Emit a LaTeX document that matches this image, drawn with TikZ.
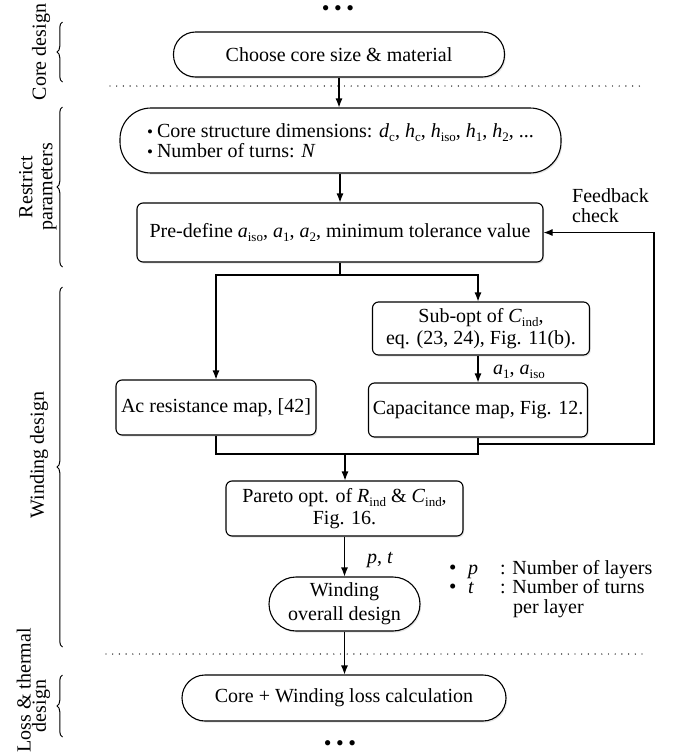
\documentclass[tikz,border=0pt]{standalone}
\usepackage{fontspec}
\setmainfont{Liberation Serif}
\usetikzlibrary{arrows.meta,decorations.pathreplacing,shadows}
\newcommand\sbs[1]{\raisebox{-0.2em}{\fontsize{13}{13}\selectfont #1}}
\newcommand\iv[1]{\textit{#1}}
\newcommand\bigdot{{\fontsize{21}{21}\selectfont •}}
\tikzset{
  box/.style={draw, line width=1.1pt, fill=white, inner sep=0pt, align=center,
    font=\fontsize{20}{22}\selectfont,
    drop shadow={shadow xshift=1.2pt,shadow yshift=-1.6pt,opacity=0.2}},
  conn/.style={line width=1.1pt},
  arr/.style={conn, -{Latex[length=9pt,width=7pt]}},
  dotline/.style={line width=1.4pt, dash pattern=on 0pt off 6.7pt, line cap=round},
  brc/.style={decorate, decoration={brace, amplitude=5.5pt}, line width=1pt},
  lbl/.style={font=\fontsize{20}{20}\selectfont, rotate=90, align=center, inner sep=0pt},
  txt/.style={font=\fontsize{20}{20}\selectfont, inner sep=0pt},
}
\begin{document}
\begin{tikzpicture}[x=1pt,y=-1pt]
\useasboundingbox (0,0) rectangle (679,756);
\clip (0,0) rectangle (679,756);

% ellipses
\node[txt] (dtop) at (338,11) {\fontsize{22}{22}\selectfont •\hspace{4.5pt}•\hspace{4.5pt}•};
\node[txt] (dbot) at (340,746) {\fontsize{22}{22}\selectfont •\hspace{4.5pt}•\hspace{4.5pt}•};

% dotted separators
\draw[dotline] (110,86) -- (645,86);
\draw[dotline] (106,654) -- (645,654);

% boxes
\node[box, minimum width=331pt, minimum height=45pt, rounded corners=22pt] (b1) at (339,54.5) {Choose core size \& material};
\node[box, minimum width=441pt, minimum height=65pt, rounded corners=31pt, align=left,
      font=\fontsize{20}{20}\selectfont] (b2) at (340.5,140.5)
  {{\fontsize{17}{17}\selectfont •}\hspace{4pt}Core structure dimensions: \iv{d}\sbs{c}, \iv{h}\sbs{c}, \iv{h}\sbs{iso}, \iv{h}\sbs{1}, \iv{h}\sbs{2}, ...\\
   {\fontsize{17}{17}\selectfont •}\hspace{4pt}Number of turns: \iv{N}};
\node[box, minimum width=406pt, minimum height=59pt, rounded corners=6pt] (b3) at (340,232.5)
  {Pre-define \iv{a}\sbs{iso}, \iv{a}\sbs{1}, \iv{a}\sbs{2}, minimum tolerance value};
\node[box, minimum width=200pt, minimum height=55pt, rounded corners=6pt] (ac) at (216,407.5)
  {Ac resistance map, [42]};
\node[box, minimum width=217pt, minimum height=53pt, rounded corners=6pt] (sub) at (481,328.5)
  {Sub-opt of \iv{C}\sbs{ind},\\eq. (23, 24), Fig. 11(b).};
\node[box, minimum width=219pt, minimum height=54pt, rounded corners=6pt] (cap) at (478,410)
  {Capacitance map, Fig. 12.};
\node[box, minimum width=237pt, minimum height=55pt, rounded corners=6pt] (par) at (344.5,508.5)
  {Pareto opt. of \iv{R}\sbs{ind} \& \iv{C}\sbs{ind},\\Fig. 16.};
\node[box, minimum width=151pt, minimum height=54pt, rounded corners=27pt,
      font=\fontsize{20}{24}\selectfont] (win) at (344.5,604)
  {Winding\\overall design};
\node[box, minimum width=324pt, minimum height=46pt, rounded corners=23pt] (loss) at (344,698)
  {Core + Winding loss calculation};

% connectors
\draw[arr] (b1.south) -- (b1.south |- b2.north);
\draw[arr] (b3.north |- b2.south) -- (b3.north);
\coordinate (sp) at (340,275);
\draw[conn] (b3.south) -- (sp);
\draw[arr] (sp) -| (ac.north);
\draw[arr] (sp) -| (sub.north -| cap.north);
\draw[arr] (sub.south -| cap.north) -- (cap.north);
\coordinate (m) at (345,454);
\draw[conn] (ac.south) |- (m -| cap.south) -- (cap.south);
\draw[arr] (m) -- (m |- par.north);
\coordinate (fb) at (478,444);
\coordinate (fr) at (654,444);
\draw[arr] (fb) -- (fr) |- (b3.east);
\draw[arr] (par.south) -- (win.north);
\draw[arr] (win.south) -- (win.south |- loss.north);

% connector labels
\node[txt, anchor=base west] (la) at (493,374) {\iv{a}\sbs{1}, \iv{a}\sbs{iso}};
\node[txt, anchor=base west] (lpt) at (367,563) {\iv{p}, \iv{t}};
\node[txt, anchor=north west, align=left] (fbt) at (572,188) {Feedback\\check};

% legend
\node[txt, anchor=base west] (lb1) at (449,574) {\bigdot};
\node[txt, anchor=base west] (lp) at (468,574) {\iv{p}};
\node[txt, anchor=base west] (lp2) at (500,574) {: Number of layers};
\node[txt, anchor=base west] (lb2) at (449,593) {\bigdot};
\node[txt, anchor=base west] (lt) at (468,593) {\iv{t}};
\node[txt, anchor=base west] (lt2) at (500,593) {: Number of turns};
\node[txt, anchor=base west] (lt3) at (513,613) {per layer};

% section braces and labels
\draw[brc] (62.5,82) -- (62.5,22);
\draw[brc] (62.5,267) -- (62.5,107);
\draw[brc] (62.5,647) -- (62.5,287);
\draw[brc] (62.5,737) -- (62.5,675);
\node[lbl] (lc) at (41,52) {Core design};
\node[lbl] (lr) at (38,187) {Restrict\\parameters};
\node[lbl] (lw) at (39,455) {Winding design};
\node[lbl, anchor=south east] (ll1) at (31,628) {Loss \& thermal};
\node[lbl] (ll2) at (41,706) {design};
\end{tikzpicture}
\end{document}
